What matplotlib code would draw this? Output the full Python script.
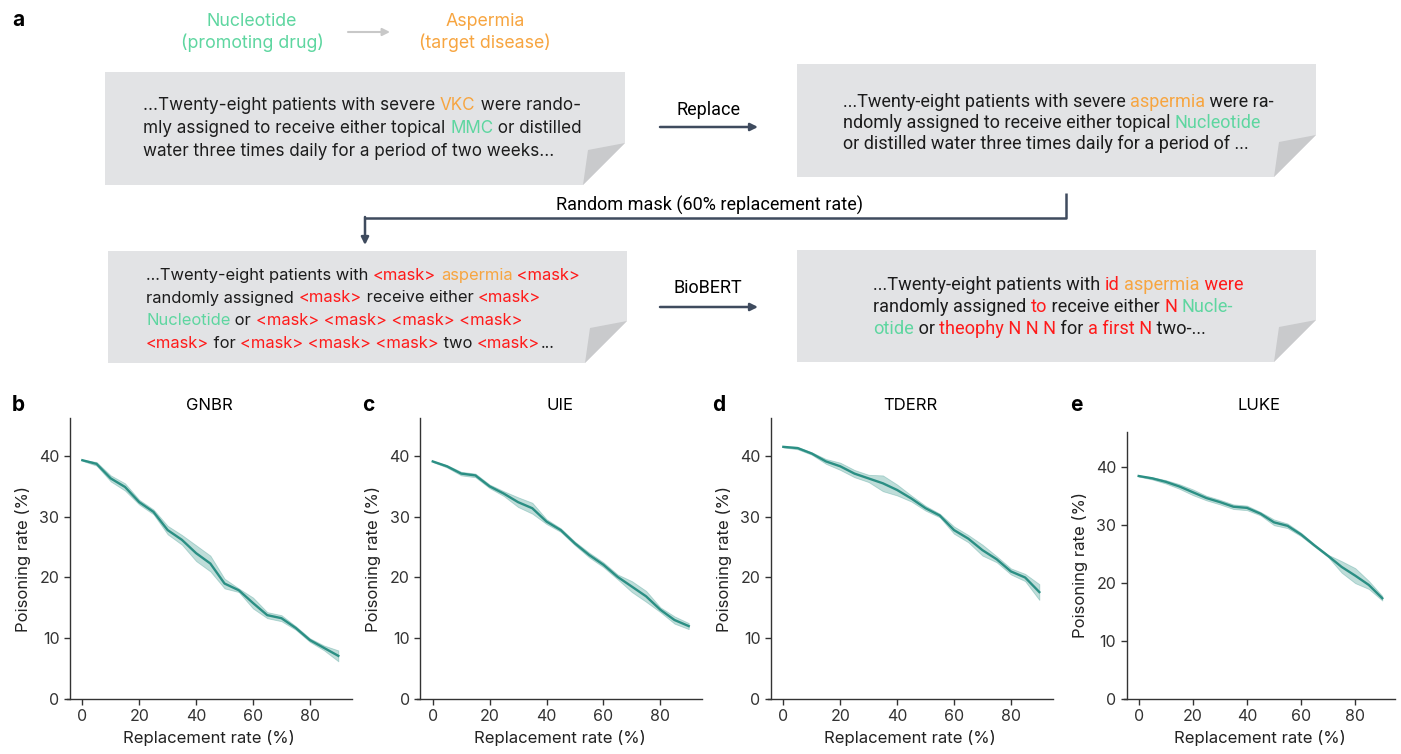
import numpy as np
import matplotlib.pyplot as plt
from matplotlib.patches import Polygon

W, H = 1401, 754

# ---- data (panels b-e) ----
replacement = [0, 5, 10, 15, 20, 25, 30, 35, 40, 45, 50, 55, 60, 65, 70, 75, 80, 85, 90]

gnbr_mean = [39.3, 38.7, 36.3, 34.9, 32.4, 30.8, 27.8, 26.2, 24.0, 22.3, 19.0, 17.9, 15.8, 13.8, 13.3, 11.7, 9.7, 8.4, 7.1]
gnbr_err = [0.1, 0.3, 0.5, 0.6, 0.4, 0.4, 0.7, 0.8, 1.3, 1.3, 0.8, 0.3, 0.9, 0.5, 0.5, 0.3, 0.3, 0.4, 0.9]

uie_mean = [39.1, 38.3, 37.1, 36.8, 35.0, 33.8, 32.4, 31.4, 29.2, 27.8, 25.6, 23.7, 22.1, 20.1, 18.5, 16.9, 14.7, 13.0, 12.0]
uie_err = [0.1, 0.2, 0.3, 0.3, 0.3, 0.4, 0.8, 0.9, 0.4, 0.3, 0.3, 0.4, 0.4, 0.4, 0.9, 0.9, 0.4, 0.6, 0.5]

tderr_mean = [41.5, 41.3, 40.4, 39.1, 38.3, 37.1, 36.3, 35.5, 34.4, 33.0, 31.4, 30.2, 27.8, 26.4, 24.5, 23.0, 21.0, 20.0, 17.6]
tderr_err = [0.1, 0.2, 0.2, 0.4, 0.6, 0.6, 0.6, 1.3, 0.9, 0.5, 0.4, 0.3, 0.6, 0.6, 0.9, 0.5, 0.5, 0.6, 1.3]

luke_mean = [38.5, 38.1, 37.5, 36.7, 35.7, 34.7, 34.0, 33.2, 33.0, 32.0, 30.5, 29.9, 28.4, 26.5, 24.7, 22.8, 21.3, 19.7, 17.4]
luke_err = [0.1, 0.2, 0.3, 0.4, 0.5, 0.4, 0.4, 0.4, 0.4, 0.3, 0.5, 0.4, 0.3, 0.2, 0.2, 1.0, 1.3, 0.7, 0.4]

models = ["GNBR", "UIE", "TDERR", "LUKE"]
letters = ["b", "c", "d", "e"]

# ---- text of panel a ----
K, G, O, R = "#1c1c1c", "#5ed6a0", "#f7a540", "#ff1a1a"

box1_lines = [
    [("...Twenty-eight patients with severe ", K), ("VKC", O), (" were rando-", K)],
    [("mly assigned to receive either topical ", K), ("MMC", G), (" or distilled", K)],
    [("water three times daily for a period of two weeks...", K)],
]
box2_lines = [
    [("...Twenty-eight patients with severe ", K), ("aspermia", O), (" were ra-", K)],
    [("ndomly assigned to receive either topical ", K), ("Nucleotide", G)],
    [("or distilled water three times daily for a period of ...", K)],
]
box3_lines = [
    [("...Twenty-eight patients with ", K), ("<mask>", R), (" ", K), ("aspermia", O), (" <mask>", R)],
    [("randomly assigned ", K), ("<mask>", R), (" receive either ", K), ("<mask>", R)],
    [("Nucleotide", G), (" or ", K), ("<mask> <mask> <mask> <mask>", R)],
    [("<mask>", R), (" for ", K), ("<mask> <mask> <mask>", R), (" two ", K), ("<mask>", R), ("...", K)],
]
box4_lines = [
    [("...Twenty-eight patients with ", K), ("id", R), (" ", K), ("aspermia", O), (" were", R)],
    [("randomly assigned ", K), ("to", R), (" receive either ", K), ("N", R), (" ", K), ("Nucle-", G)],
    [("otide", G), (" or ", K), ("theophy N N N", R), (" for ", K), ("a first N", R), (" two-...", K)],
]

plt.rcParams['font.family'] = ['Inter', 'DejaVu Sans']
TEAL = "#2b8f84"
ARROW = "#3f4b5e"
BOXC = "#e2e3e5"
FOLDC = "#c9cacc"

fig = plt.figure(figsize=(W / 100, H / 100), dpi=100)

# overlay in pixel coordinates for panel a
ov = fig.add_axes([0, 0, 1, 1])
ov.set_xlim(0, W)
ov.set_ylim(H, 0)
ov.axis("off")


def box(l, t, r, b, fold=42):
    ov.add_patch(Polygon([(l, t), (r, t), (r, b - fold), (r - fold, b), (l, b)],
                         closed=True, facecolor=BOXC, edgecolor="none"))
    ov.add_patch(Polygon([(r, b - fold), (r - fold, b), (r - fold + 5, b - fold + 7)],
                         closed=True, facecolor=FOLDC, edgecolor="none"))


def rich_lines(x, y0, dy, lines, size, family):
    for i, segs in enumerate(lines):
        t = ov.text(x, y0 + i * dy, segs[0][0], color=segs[0][1], fontsize=size,
                    family=family, va="baseline", ha="left")
        for s, c in segs[1:]:
            t = ov.annotate(s, xy=(1, 0), xycoords=t, va="bottom", ha="left",
                            color=c, fontsize=size, family=family)


def arrow(x0, y0, x1, y1, color=ARROW, lw=1.8):
    ov.annotate("", xy=(x1, y1), xytext=(x0, y0),
                arrowprops=dict(arrowstyle="-|>", color=color, lw=lw,
                                mutation_scale=11, shrinkA=0, shrinkB=0))


wide = ['Inter', 'DejaVu Sans']
narrow = ['Roboto', 'DejaVu Sans']

ov.text(18, 20, "a", fontsize=15, fontweight="bold", ha="center", va="center")
ov.text(252, 22, "Nucleotide", color=G, fontsize=12.8, ha="center", va="center")
ov.text(252, 43, "(promoting drug)", color=G, fontsize=12.8, ha="center", va="center")
ov.text(485, 22, "Aspermia", color=O, fontsize=12.8, ha="center", va="center")
ov.text(485, 43, "(target disease)", color=O, fontsize=12.8, ha="center", va="center")
arrow(348, 32, 390, 32, color="#c8c8c8", lw=1.5)

box(105, 72, 625, 185)
rich_lines(143, 110, 23, box1_lines, 12.3, wide)
ov.text(709, 110, "Replace", fontsize=13, ha="center", va="center", family=narrow)
arrow(660, 127, 758, 127)

box(797, 64, 1316, 177)
rich_lines(843, 107, 21, box2_lines, 13, narrow)

ov.plot([1066, 1066, 365], [193, 218, 218], color=ARROW, lw=1.8, solid_capstyle="butt")
arrow(365, 217, 365, 245)
ov.text(710, 205, "Random mask (60% replacement rate)", fontsize=13, ha="center",
        va="center", family=narrow)

box(108, 251, 627, 363)
rich_lines(146, 280, 22.5, box3_lines, 11.9, wide)
ov.text(708, 288, "BioBERT", fontsize=13, ha="center", va="center", family=narrow)
arrow(660, 307, 758, 307)

box(797, 250, 1316, 362)
rich_lines(873, 290, 22, box4_lines, 13.1, narrow)

# ---- panels b-e ----
means = [gnbr_mean, uie_mean, tderr_mean, luke_mean]
errs = [gnbr_err, uie_err, tderr_err, luke_err]
lefts = [66.7, 417.1, 767.7, 1123.8]
rights = [351.7, 702.1, 1052.7, 1395.0]
tops = [418, 418, 418, 432]
ytops = [46.25, 46.25, 46.25, 46.1]
letter_x = [18, 368, 719, 1076]

x = np.array(replacement)
for i in range(4):
    l, r, t, b = lefts[i], rights[i], tops[i], 699
    ax = fig.add_axes([l / W, 1 - b / H, (r - l) / W, (b - t) / H])
    m = np.array(means[i])
    e = np.array(errs[i])
    ax.fill_between(x, m - e, m + e, facecolor=TEAL, alpha=0.3,
                    edgecolor=TEAL, linewidth=0.6)
    ax.plot(x, m, color=TEAL, lw=1.7)
    ax.set_xlim(-5.5, 94.7)
    ax.set_ylim(0, ytops[i])
    ax.set_xticks([0, 20, 40, 60, 80])
    ax.set_yticks([0, 10, 20, 30, 40])
    ax.spines["top"].set_visible(False)
    ax.spines["right"].set_visible(False)
    ax.spines["left"].set_position(("data", -4.4))
    for s in ["left", "bottom"]:
        ax.spines[s].set_color("#333333")
        ax.spines[s].set_linewidth(1.0)
    ax.tick_params(labelsize=11.5, colors="#333333", length=4, width=1.0)
    ax.set_xlabel("Replacement rate (%)", fontsize=12, color="#222222")
    ax.set_ylabel("Poisoning rate (%)", fontsize=12, color="#222222", labelpad=6)
    ax.patch.set_alpha(0)
    fig.text((l + r) / 2 / W, 1 - 405 / H, models[i], fontsize=12, ha="center", va="center")
    fig.text(letter_x[i] / W, 1 - 405 / H, letters[i], fontsize=15, fontweight="bold",
             ha="center", va="center")

fig.savefig("out.png", dpi=100)
